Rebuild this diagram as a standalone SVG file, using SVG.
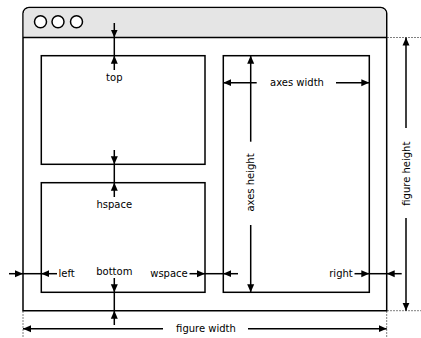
<svg xmlns="http://www.w3.org/2000/svg" width="421" height="338" viewBox="0 0 421 338">
<style>
.box{fill:#fff;stroke:#000;stroke-width:1.5}
.ln{stroke:#000;stroke-width:1.5;fill:none}
.ar{stroke:#000;stroke-width:1.5;fill:none;marker-end:url(#ah)}
.dot{stroke:#000;stroke-width:1;stroke-dasharray:1,2;fill:none}
text{font-family:"DejaVu Sans",sans-serif;font-size:10px;fill:#000}
.c{text-anchor:middle}
</style>
<defs>
<marker id="ah" markerUnits="userSpaceOnUse" markerWidth="8" markerHeight="8" viewBox="0 0 8 7" refX="8" refY="3.5" orient="auto">
<path d="M0,0 L8,3.5 L0,7 z" fill="#000"/>
</marker>
</defs>
<g id="window">
<path d="M23,310.7 V13.5 A6,6 0 0 1 29,7.5 H380.7 A6,6 0 0 1 386.7,13.5 V310.7 Z" fill="#fff" stroke="#000" stroke-width="1.5"/>
<path d="M23.75,37.5 V13.5 A5.25,5.25 0 0 1 29,8.25 H380.7 A5.25,5.25 0 0 1 385.95,13.5 V37.5 Z" fill="#e5e5e5"/>
<line x1="23" y1="37.5" x2="386.7" y2="37.5" class="ln"/>
<circle cx="40.5" cy="21.7" r="6" fill="#fff" stroke="#000" stroke-width="1.5"/>
<circle cx="58" cy="21.7" r="6" fill="#fff" stroke="#000" stroke-width="1.5"/>
<circle cx="76.5" cy="21.7" r="6" fill="#fff" stroke="#000" stroke-width="1.5"/>
</g>
<g id="axes1"><rect x="41.3" y="55.7" width="163.7" height="108.6" class="box"/></g>
<g id="axes2"><rect x="41.3" y="182.7" width="163.7" height="109.6" class="box"/></g>
<g id="axes3"><rect x="223.3" y="55.7" width="146" height="236.6" class="box"/></g>
<g id="connectors">
<!-- top -->
<line x1="114.3" y1="37.5" x2="114.3" y2="55.7" class="ln"/>
<line x1="114.3" y1="23" x2="114.3" y2="37.5" class="ar"/>
<line x1="114.3" y1="70" x2="114.3" y2="55.7" class="ar"/>
<!-- hspace -->
<line x1="114.3" y1="164.3" x2="114.3" y2="182.7" class="ln"/>
<line x1="114.3" y1="150" x2="114.3" y2="164.3" class="ar"/>
<line x1="114.3" y1="197" x2="114.3" y2="182.7" class="ar"/>
<!-- bottom -->
<line x1="114.3" y1="292.3" x2="114.3" y2="310.7" class="ln"/>
<line x1="114.3" y1="278" x2="114.3" y2="292.3" class="ar"/>
<line x1="114.3" y1="325" x2="114.3" y2="310.7" class="ar"/>
<!-- left -->
<line x1="23" y1="273.7" x2="41.3" y2="273.7" class="ln"/>
<line x1="9" y1="273.7" x2="23" y2="273.7" class="ar"/>
<line x1="57" y1="273.7" x2="41.3" y2="273.7" class="ar"/>
<!-- wspace -->
<line x1="205" y1="273.7" x2="223.3" y2="273.7" class="ln"/>
<line x1="189.5" y1="273.7" x2="205" y2="273.7" class="ar"/>
<line x1="238" y1="273.7" x2="223.3" y2="273.7" class="ar"/>
<!-- right -->
<line x1="369.3" y1="273.7" x2="386.7" y2="273.7" class="ln"/>
<line x1="354.5" y1="273.7" x2="369.3" y2="273.7" class="ar"/>
<line x1="401.7" y1="273.7" x2="386.7" y2="273.7" class="ar"/>
<!-- axes width -->
<line x1="256.7" y1="82.7" x2="223.3" y2="82.7" class="ar"/>
<line x1="336" y1="82.7" x2="369.3" y2="82.7" class="ar"/>
<!-- axes height -->
<line x1="250.7" y1="141.7" x2="250.7" y2="55.7" class="ar"/>
<line x1="250.7" y1="225" x2="250.7" y2="292.3" class="ar"/>
<!-- figure height -->
<line x1="406" y1="128" x2="406" y2="37.5" class="ar"/>
<line x1="406" y1="218" x2="406" y2="310.7" class="ar"/>
<!-- figure width -->
<line x1="163" y1="328.7" x2="23" y2="328.7" class="ar"/>
<line x1="248" y1="328.7" x2="386.7" y2="328.7" class="ar"/>
<!-- dotted guides -->
<line x1="387.5" y1="37.5" x2="421" y2="37.5" class="dot"/>
<line x1="387.5" y1="310.7" x2="421" y2="310.7" class="dot"/>
<line x1="23" y1="311.5" x2="23" y2="338" class="dot"/>
<line x1="386.7" y1="311.5" x2="386.7" y2="338" class="dot"/>
</g>
<g id="labels">
<text x="114.3" y="80.5" class="c">top</text>
<text x="114.3" y="207.5" class="c">hspace</text>
<text x="114.3" y="274.5" class="c">bottom</text>
<text x="58.5" y="277.3">left</text>
<text x="169" y="277" class="c">wspace</text>
<text x="341" y="277" class="c">right</text>
<text x="297" y="86.2" class="c">axes width</text>
<text x="0" y="0" class="c" transform="translate(254.3,182.5) rotate(-90)">axes height</text>
<text x="0" y="0" class="c" transform="translate(409.6,173.7) rotate(-90)">figure height</text>
<text x="206" y="332.3" class="c">figure width</text>
</g>
</svg>
